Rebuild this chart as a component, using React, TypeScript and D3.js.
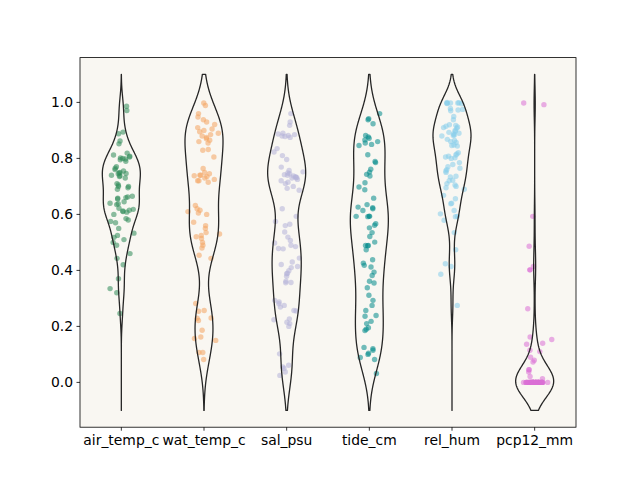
import React from "react";
import * as d3 from "d3";

const categories = ["air_temp_c", "wat_temp_c", "sal_psu", "tide_cm", "rel_hum", "pcp12_mm"];

const airTemp = [0.986, 0.971, 0.894, 0.888, 0.862, 0.852, 0.819,
  0.812, 0.808, 0.805, 0.802, 0.798, 0.795, 0.79, 0.8,
  0.77, 0.765, 0.76, 0.755, 0.75, 0.748, 0.745, 0.74, 0.738, 0.735, 0.73, 0.746,
  0.71, 0.705, 0.7, 0.695, 0.69, 0.7,
  0.665, 0.66, 0.662, 0.655, 0.658,
  0.645, 0.64, 0.638, 0.635,
  0.622, 0.618, 0.615, 0.612, 0.61, 0.608, 0.6,
  0.585, 0.58, 0.575, 0.57,
  0.55, 0.533, 0.525, 0.518, 0.51, 0.5, 0.49, 0.46, 0.443, 0.42, 0.37, 0.335, 0.32, 0.246];

const watTemp = [0.998, 0.989, 0.96, 0.948, 0.938, 0.93, 0.921,
  0.91, 0.905, 0.9, 0.895, 0.89, 0.885, 0.88, 0.875, 0.87, 0.865, 0.86, 0.855,
  0.832, 0.829, 0.805, 0.764,
  0.75, 0.745, 0.74, 0.738, 0.735, 0.73, 0.725, 0.72, 0.72, 0.715, 0.74,
  0.632, 0.62, 0.615, 0.61, 0.605, 0.6,
  0.572, 0.56, 0.55, 0.535, 0.53, 0.525, 0.52, 0.514, 0.5, 0.49, 0.48, 0.454, 0.443,
  0.282, 0.257, 0.254, 0.229, 0.23, 0.221, 0.186, 0.162, 0.157, 0.15, 0.107, 0.107, 0.082];

const salPsu = [0.96, 0.93, 0.918, 0.89, 0.887, 0.885, 0.882, 0.88, 0.878, 0.875,
  0.835, 0.823, 0.81, 0.796, 0.769,
  0.757, 0.752, 0.748, 0.745, 0.742, 0.74, 0.737, 0.735, 0.732, 0.73, 0.725, 0.72, 0.715, 0.71, 0.7, 0.731,
  0.693, 0.686, 0.62, 0.593, 0.575, 0.565, 0.56, 0.537, 0.519, 0.507, 0.498, 0.49, 0.485, 0.478, 0.477,
  0.444, 0.43, 0.421, 0.414, 0.41, 0.399, 0.39, 0.388, 0.379, 0.361, 0.356, 0.357,
  0.293, 0.287, 0.281, 0.275, 0.269, 0.257, 0.255, 0.227, 0.224, 0.215, 0.21, 0.2,
  0.102, 0.061, 0.055, 0.05, 0.037, 0.025];

const tideCm = [0.96, 0.942, 0.938, 0.924, 0.882, 0.877, 0.872, 0.866, 0.86, 0.855, 0.85, 0.846,
  0.813, 0.789, 0.785, 0.761, 0.751, 0.743, 0.737, 0.713, 0.698, 0.688, 0.658, 0.635, 0.626, 0.624, 0.62, 0.614,
  0.593, 0.593, 0.592, 0.594, 0.567, 0.561, 0.552, 0.535, 0.521, 0.501, 0.489, 0.489, 0.488, 0.474,
  0.438, 0.426, 0.418, 0.412, 0.394, 0.382, 0.361, 0.355, 0.338, 0.311, 0.293, 0.275, 0.257, 0.239, 0.236, 0.218, 0.21, 0.195,
  0.19, 0.185, 0.125, 0.12, 0.115, 0.104, 0.1, 0.089, 0.082, 0.032];

const relHum = [1.0, 0.999, 0.998, 0.998, 0.997, 0.996, 0.995,
  0.978, 0.975, 0.973, 0.97, 0.95, 0.938,
  0.92, 0.918, 0.915, 0.912, 0.91, 0.908,
  0.9, 0.897, 0.893, 0.89, 0.887, 0.884, 0.882, 0.88,
  0.868, 0.864, 0.86, 0.857, 0.848, 0.846, 0.844,
  0.82, 0.816, 0.812, 0.808, 0.805, 0.802, 0.8,
  0.785, 0.778, 0.77, 0.765, 0.76, 0.755, 0.75,
  0.736, 0.734, 0.722, 0.72, 0.71, 0.705, 0.7, 0.695, 0.69,
  0.668, 0.656, 0.64, 0.638, 0.614, 0.602, 0.593, 0.592, 0.579, 0.535, 0.474, 0.424, 0.414, 0.386, 0.275];

const pcp12Mm = [0.998, 0.992, 0.593, 0.486, 0.414, 0.402, 0.402, 0.263, 0.162, 0.153, 0.14, 0.136,
  0.115, 0.11, 0.09, 0.079, 0.073, 0.045, 0.045, 0.037, 0.021, 0.013,
  0, 0, 0, 0, 0, 0, 0, 0, 0, 0, 0, 0, 0, 0, 0, 0, 0, 0, 0, 0,
  0, 0, 0, 0, 0, 0, 0, 0, 0, 0, 0, 0, 0, 0, 0, 0, 0, 0, 0, 0,
  0, 0, 0, 0, 0, 0, 0, 0, 0, 0, 0, 0, 0, 0, 0, 0, 0, 0, 0, 0];

const seriesValues = [airTemp, watTemp, salPsu, tideCm, relHum, pcp12Mm];
const colors = ["#2e8b57", "#f4a460", "#b4b2d8", "#008b8b", "#87ceeb", "#da70d6"];
const yTicks = [0, 0.2, 0.4, 0.6, 0.8, 1.0];

const W = 640, H = 480;
const ML = 80, MR = 576, MT = 57.6, MB = 427.2;
const BW_FACTOR = 0.3;

function kde(values: number[], grid: number[]) {
  const mean = d3.mean(values)!;
  const sd = Math.sqrt(d3.sum(values, v => (v - mean) ** 2) / (values.length - 1));
  const bw = sd * BW_FACTOR;
  return grid.map(g => d3.sum(values, v => Math.exp(-0.5 * ((g - v) / bw) ** 2)) / (values.length * bw * Math.sqrt(2 * Math.PI)));
}

export default function App() {
  const x = d3.scaleBand().domain(categories).range([ML, MR]).paddingInner(0).paddingOuter(0);
  const y = d3.scaleLinear().domain([-0.16, 1.16]).range([MB, MT]);
  const step = x.step();
  const halfW = step * 0.23;
  const grid = d3.range(0, 241).map(i => -0.1 + i * 1.2 / 240);

  return (
    <svg width={W} height={H} style={{ display: "block", position: "absolute", left: 0, top: 0 }} fontFamily="DejaVu Sans, sans-serif">
      <rect x={0} y={0} width={W} height={H} fill="#ffffff" />
      <rect x={ML} y={MT} width={MR - ML} height={MB - MT} fill="#f9f7f2" />
      {categories.map((c, i) => {
        const vals = seriesValues[i];
        const cx = x(c)! + step / 2;
        const dens = kde(vals, grid);
        const mx = d3.max(dens)!;
        const pts: [number, number][] = grid.map((g, k) => [cx + halfW * dens[k] / mx, y(g)]);
        const left: [number, number][] = grid.map((g, k) => [cx - halfW * dens[k] / mx, y(g)]).reverse();
        const line = d3.line();
        const path = line([...pts, ...left])! + "Z";
        const rng = d3.randomNormal.source(d3.randomLcg(0.1 + i * 0.13))(0, step * 0.07);
        return (
          <g key={c}>
            {vals.map((v, k) => (
              <circle key={k} cx={cx + rng()} cy={y(v)} r={2.7} fill={colors[i]} fillOpacity={0.55} />
            ))}
            <path d={path} fill="none" stroke="#262626" strokeWidth={1.3} strokeLinejoin="round" />
          </g>
        );
      })}
      <rect x={ML} y={MT} width={MR - ML} height={MB - MT} fill="none" stroke="#000" strokeWidth={0.8} />
      {yTicks.map(t => (
        <g key={t}>
          <line x1={ML - 3.5} x2={ML} y1={y(t)} y2={y(t)} stroke="#000" strokeWidth={0.8} />
          <text x={ML - 7} y={y(t)} dy="0.35em" textAnchor="end" fontSize={13.9} fill="#000">{t.toFixed(1)}</text>
        </g>
      ))}
      {categories.map(c => {
        const cx = x(c)! + step / 2;
        return (
          <g key={c}>
            <line x1={cx} x2={cx} y1={MB} y2={MB + 3.5} stroke="#000" strokeWidth={0.8} />
            <text x={cx} y={MB + 7} dy="0.76em" textAnchor="middle" fontSize={13.9} fill="#000">{c}</text>
          </g>
        );
      })}
    </svg>
  );
}
